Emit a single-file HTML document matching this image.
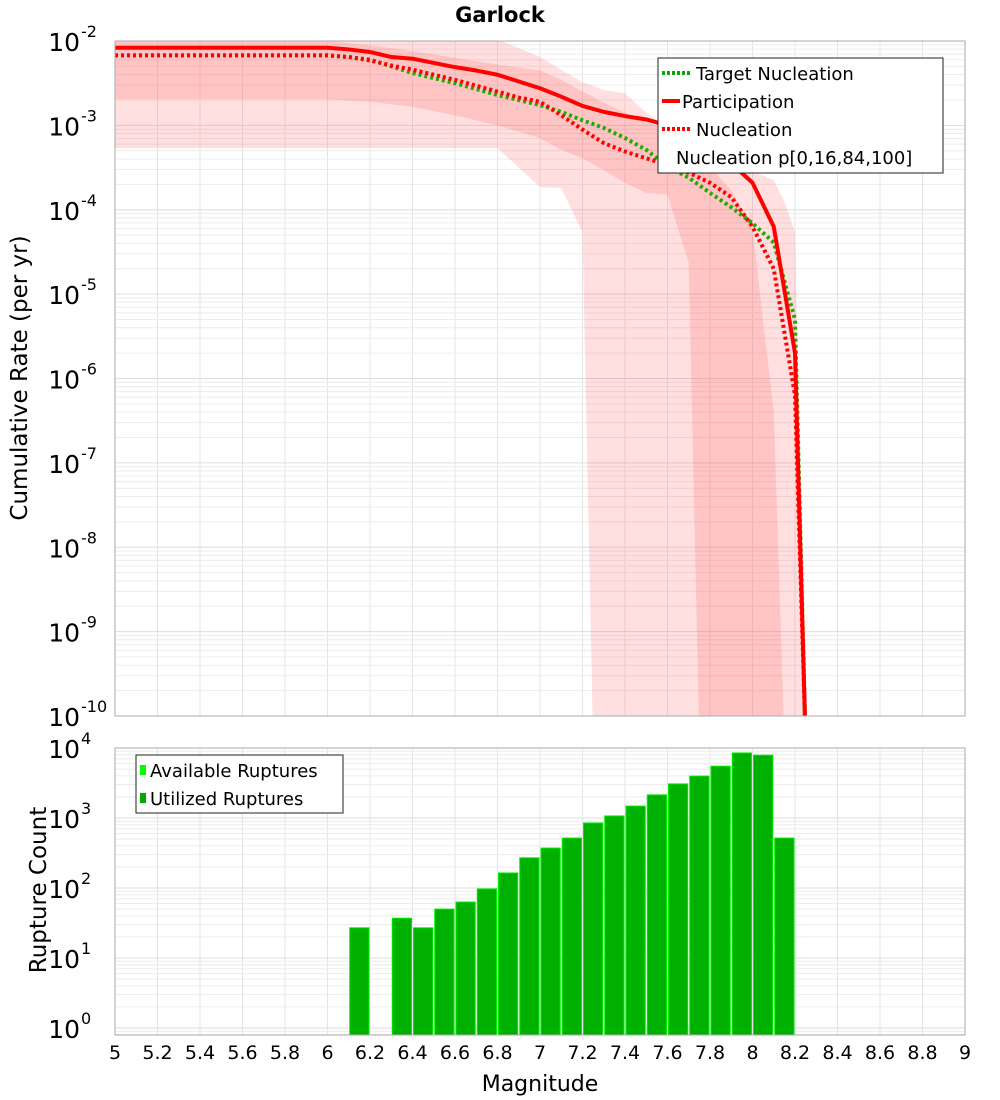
<!DOCTYPE html>
<html><head><meta charset="utf-8"><style>
body{margin:0;background:#fff;}
svg{display:block;font-family:"DejaVu Sans","Liberation Sans",sans-serif;}
</style></head><body>
<svg id="c" width="1000" height="1100" xmlns="http://www.w3.org/2000/svg">
<defs>
<clipPath id="clipTop"><rect x="115" y="41" width="850" height="675"/></clipPath>
<clipPath id="clipBot"><rect x="115" y="748" width="850" height="287"/></clipPath>
</defs>
<text x="500" y="22" text-anchor="middle" font-size="21" font-weight="bold">Garlock</text>
<g id="topGrid"></g><g id="topBands" clip-path="url(#clipTop)"></g><g id="topLines" clip-path="url(#clipTop)"></g>
<rect x="115" y="41" width="850" height="675" fill="none" stroke="#aaa"/>
<g id="botGrid"></g><g id="bars" clip-path="url(#clipBot)"></g>
<rect x="115" y="748" width="850" height="287" fill="none" stroke="#aaa"/>
<g id="axes"></g>
<text transform="translate(27,378) rotate(-90)" text-anchor="middle" font-size="23">Cumulative Rate (per yr)</text>
<text transform="translate(46,890) rotate(-90)" text-anchor="middle" font-size="23">Rupture Count</text>
<text x="540" y="1091" text-anchor="middle" font-size="22">Magnitude</text>
<g>
<rect x="658" y="58" width="285" height="115" fill="#fff" stroke="#222"/>
<line x1="662" y1="73" x2="690" y2="73" stroke="#00aa00" stroke-width="4" stroke-dasharray="3,2"/>
<text x="696" y="80" font-size="18">Target Nucleation</text>
<line x1="662" y1="101" x2="680" y2="101" stroke="#f00" stroke-width="4"/>
<text x="682" y="108" font-size="18">Participation</text>
<line x1="662" y1="129" x2="690" y2="129" stroke="#f00" stroke-width="4" stroke-dasharray="3,2"/>
<text x="696" y="136" font-size="18">Nucleation</text>
<text x="676" y="164" font-size="18">Nucleation p[0,16,84,100]</text>
</g>
<g>
<rect x="136" y="755" width="207" height="58" fill="#fff" stroke="#222"/>
<rect x="140" y="765" width="6" height="10" fill="#00ff00"/>
<text x="150" y="777" font-size="18">Available Ruptures</text>
<rect x="140" y="793" width="6" height="10" fill="#00aa00"/>
<text x="150" y="805" font-size="18">Utilized Ruptures</text>
</g>
</svg>
<script>
const NS="http://www.w3.org/2000/svg";
const mags=[5,5.1,5.2,5.3,5.4,5.5,5.6,5.7,5.8,5.9,6.0,6.1,6.2,6.3,6.4,6.5,6.6,6.7,6.8,6.9,7.0,7.1,7.2,7.3,7.4,7.5,7.6,7.7,7.8,7.9,8.0,8.1,8.2,8.25];
const partLog=[-2.08,-2.08,-2.08,-2.08,-2.08,-2.08,-2.08,-2.08,-2.08,-2.08,-2.08,-2.1,-2.13,-2.19,-2.21,-2.26,-2.31,-2.35,-2.40,-2.48,-2.56,-2.66,-2.77,-2.84,-2.89,-2.93,-3.0,-3.09,-3.21,-3.45,-3.68,-4.2,-5.7,-10.3];
const nuclLog=[-2.17,-2.17,-2.17,-2.17,-2.17,-2.17,-2.17,-2.17,-2.17,-2.17,-2.17,-2.19,-2.23,-2.29,-2.34,-2.40,-2.46,-2.53,-2.60,-2.67,-2.72,-2.88,-3.05,-3.21,-3.31,-3.39,-3.47,-3.56,-3.68,-3.85,-4.2,-4.7,-6.2,-10.3];
const targLog=[-2.17,-2.17,-2.17,-2.17,-2.17,-2.17,-2.17,-2.17,-2.17,-2.17,-2.17,-2.19,-2.22,-2.30,-2.38,-2.44,-2.50,-2.57,-2.64,-2.70,-2.76,-2.84,-2.94,-3.03,-3.15,-3.29,-3.49,-3.62,-3.80,-3.97,-4.16,-4.39,-5.3,-10.3];
const bandMags=[5,6.0,6.2,6.4,6.6,6.8,7.0,7.1,7.2,7.25,7.3,7.4,7.5,7.6,7.7,7.75,7.8,7.9,8.0,8.1,8.15,8.2,8.25];
const minLog=[-3.27,-3.27,-3.27,-3.27,-3.27,-3.27,-3.73,-3.74,-4.27,-10.3,-10.3,-10.3,-10.3,-10.3,-10.3,-10.3,-10.3,-10.3,-10.3,-10.3,-10.3,-10.3,-10.3];
const p16Log=[-2.69,-2.69,-2.72,-2.78,-2.88,-3.0,-3.15,-3.29,-3.39,-3.46,-3.53,-3.68,-3.80,-3.82,-4.63,-10.3,-10.3,-10.3,-10.3,-10.3,-10.3,-10.3,-10.3];
const p84Log=[-1.98,-2.0,-2.05,-2.12,-2.2,-2.28,-2.35,-2.46,-2.60,-2.66,-2.73,-2.85,-2.96,-3.05,-3.25,-3.37,-3.49,-3.77,-4.24,-6.4,-10.3,-10.3,-10.3];
const maxLog=[-1.9,-1.9,-1.9,-1.9,-1.9,-1.98,-2.19,-2.34,-2.49,-2.53,-2.58,-2.62,-2.85,-3.02,-3.17,-3.27,-3.37,-3.53,-3.55,-3.65,-3.9,-4.27,-10.3];
const barMags=[6.15,6.35,6.45,6.55,6.65,6.75,6.85,6.95,7.05,7.15,7.25,7.35,7.45,7.55,7.65,7.75,7.85,7.95,8.05,8.15];
const barCounts=[27,37,27,50,63,97,164,270,372,517,850,1070,1480,2140,3070,3970,5500,8500,7900,517];
const xTicks=["5","5.2","5.4","5.6","5.8","6","6.2","6.4","6.6","6.8","7","7.2","7.4","7.6","7.8","8","8.2","8.4","8.6","8.8","9"];
const topExps=[-2,-3,-4,-5,-6,-7,-8,-9,-10];
const botExps=[4,3,2,1,0];

const X=m=>115+(m-5)*212.5;
const YT=l=>41+(-2-l)*84.375;
const YB=l=>1028-l*70;
function el(t,a,p){const e=document.createElementNS(NS,t);for(const k in a)e.setAttribute(k,a[k]);p.appendChild(e);return e;}
const tg=document.getElementById('topGrid'),bg=document.getElementById('botGrid'),ax=document.getElementById('axes');
// grids
xTicks.forEach(t=>{const x=X(+t);
 const a=el('line',{x1:x,x2:x,y1:41,y2:716,stroke:'#e4e4e4'},tg);
 
 const b=el('line',{x1:x,x2:x,y1:748,y2:1035,stroke:'#e4e4e4'},bg);
 
 const tx=el('text',{x:x,y:1059,'text-anchor':'middle','font-size':19},ax);tx.textContent=t;
 
});
for(let d=-10;d<-2;d++)for(let k=1;k<10;k++){const y=YT(d+Math.log10(k));
 const g=el('line',{x1:115,x2:965,y1:y,y2:y,stroke:k==1?'#ddd':'#ececec'},tg);
 }
for(let d=-1;d<4;d++)for(let k=1;k<10;k++){const y=YB(d+Math.log10(k));if(y>1035||y<748)continue;
 const g=el('line',{x1:115,x2:965,y1:y,y2:y,stroke:k==1?'#ddd':'#ececec'},bg);
 }
function ylab(y,e){const t=el('text',{x:80,y:y+10,'text-anchor':'end','font-size':25},ax);t.textContent='10';
 
 const s=el('text',{x:81,y:y-4,'font-size':16},ax);s.textContent=String(e);
 }
topExps.forEach(e=>ylab(YT(e),e));botExps.forEach(e=>ylab(YB(e),e));
// bands
const bands=document.getElementById('topBands');
function band(lo,hi,fill,name){let d='';bandMags.forEach((m,i)=>{d+=(i?'L':'M')+X(m)+','+YT(hi[i]);});
 for(let i=bandMags.length-1;i>=0;i--)d+='L'+X(bandMags[i])+','+YT(lo[i]);
 const p=el('path',{d:d+'Z',fill:fill},bands);}
band(minLog,maxLog,'rgba(255,80,80,0.18)','band-min-max');
band(p16Log,p84Log,'rgba(255,80,80,0.18)','band-p16-p84');
const lines=document.getElementById('topLines');
function line(arr,color,dash,name){const pts=mags.map((m,i)=>X(m)+','+YT(arr[i])).join(' ');
 const a={points:pts,fill:'none',stroke:color,'stroke-width':4,'stroke-linejoin':'round'};if(dash)a['stroke-dasharray']=dash;
 const p=el('polyline',a,lines);}
line(targLog,'#22aa00','3,3','target-nucleation-line');
line(nuclLog,'#ff0000','3,3','nucleation-line');
line(partLog,'#ff0000',null,'participation-line');
// bars
const bars=document.getElementById('bars');
barMags.forEach((m,i)=>{const x0=X(m-0.05)+1,x1=X(m+0.05)-1,y=YB(Math.log10(barCounts[i]));
 const r=el('rect',{x:x0,y:y,width:x1-x0,height:1035-y,fill:'#00b000',stroke:'#00ee00','stroke-width':1},bars);
 });
</script>
</body></html>
